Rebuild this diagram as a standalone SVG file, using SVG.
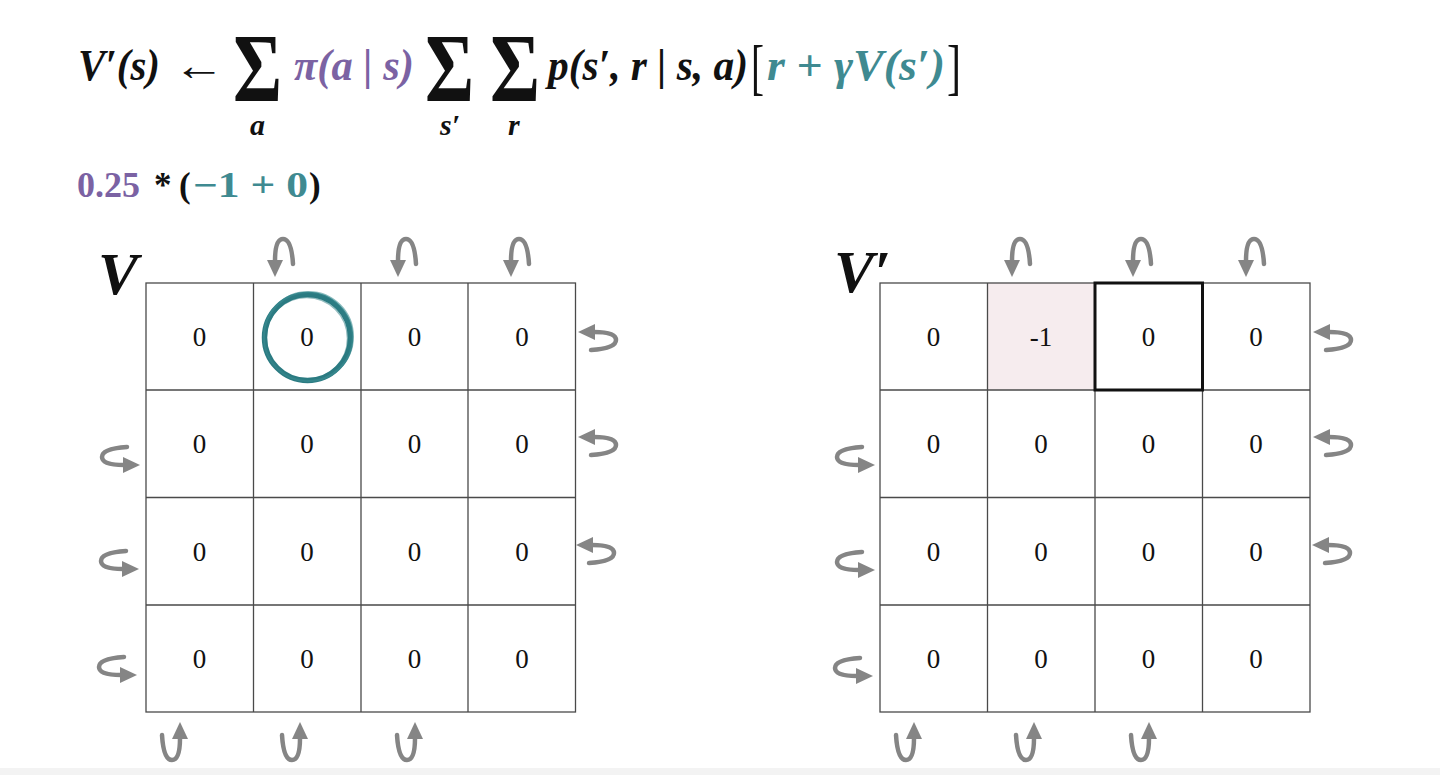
<svg xmlns="http://www.w3.org/2000/svg" width="1440" height="775" viewBox="0 0 1440 775">
<style>
.f{font-family:"Liberation Serif","Times New Roman",serif;}
.bi{font-family:"Liberation Serif","Times New Roman",serif;font-weight:bold;font-style:italic;}
.b{font-family:"Liberation Serif","Times New Roman",serif;font-weight:bold;}
.purple{fill:#7b62a3;}
.teal{fill:#3f8a91;}
.blk{fill:#111;}
.grid{fill:none;stroke:#4a4a4a;stroke-width:1.3;}
.num{font-family:"Liberation Serif","Times New Roman",serif;font-size:27px;fill:#111;text-anchor:middle;}
</style>
<defs>
<g id="loop">
<path d="M18,-13 C17,-29 14,-38 8,-38 C2,-38 0,-30 0,-16" fill="none" stroke="#858585" stroke-width="4.5" stroke-linecap="round"/>
<polygon points="0,0 -8,-17 8,-17" fill="#858585"/>
</g>
</defs>
<rect width="1440" height="775" fill="#ffffff"/>
<rect x="0" y="768" width="1440" height="7" fill="#f3f3f3"/>

<g id="formula">
<text class="bi blk" x="78" y="80" font-size="44" textLength="82" lengthAdjust="spacingAndGlyphs">V′(s)</text>
<text class="f blk" x="173" y="80" font-size="44" textLength="52" lengthAdjust="spacingAndGlyphs">←</text>
<text class="b blk"><tspan x="233" y="101" font-size="98" textLength="49" lengthAdjust="spacingAndGlyphs">Σ</tspan><tspan class="bi" x="250" y="135" font-size="30">a</tspan></text>
<text class="bi purple" x="294" y="80" font-size="44" textLength="120" lengthAdjust="spacingAndGlyphs">π(a | s)</text>
<text class="b blk"><tspan x="425" y="101" font-size="98" textLength="49" lengthAdjust="spacingAndGlyphs">Σ</tspan><tspan class="bi" x="440" y="135" font-size="30">s′</tspan></text>
<text class="b blk"><tspan x="490" y="101" font-size="98" textLength="50" lengthAdjust="spacingAndGlyphs">Σ</tspan><tspan class="bi" x="508" y="135" font-size="30">r</tspan></text>
<text class="bi blk" x="548" y="80" font-size="44" textLength="200" lengthAdjust="spacingAndGlyphs">p(s′, r | s, a)</text>
<text class="f blk" x="751" y="88" font-size="62" textLength="13" lengthAdjust="spacingAndGlyphs">[</text>
<text class="bi teal" x="767" y="80" font-size="44" textLength="178" lengthAdjust="spacingAndGlyphs">r + γV(s′)</text>
<text class="f blk" x="947" y="88" font-size="62" textLength="14" lengthAdjust="spacingAndGlyphs">]</text>
</g>

<g id="calc">
<text class="b purple" x="77" y="197" font-size="35" textLength="63" lengthAdjust="spacingAndGlyphs">0.25</text>
<text class="b blk" x="154" y="197" font-size="35">*</text>
<text class="b blk" x="179" y="197" font-size="35">(</text>
<text class="b teal" x="193" y="197" font-size="35" textLength="115" lengthAdjust="spacingAndGlyphs">−1 + 0</text>
<text class="b blk" x="309" y="197" font-size="35">)</text>
</g>

<g id="grid-V">
<text class="bi blk" x="98" y="294" font-size="60">V</text>
<rect class="grid" x="146" y="283" width="429.5" height="429"/>
<path class="grid" d="M253.5,283V712M361,283V712M468,283V712M146,390H575.5M146,497.5H575.5M146,605H575.5"/>
<g id="V-values">
<text class="num" x="199.5" y="346">0</text><text class="num" x="307" y="346">0</text><text class="num" x="414.5" y="346">0</text><text class="num" x="522" y="346">0</text>
<text class="num" x="199.5" y="453">0</text><text class="num" x="307" y="453">0</text><text class="num" x="414.5" y="453">0</text><text class="num" x="522" y="453">0</text>
<text class="num" x="199.5" y="561">0</text><text class="num" x="307" y="561">0</text><text class="num" x="414.5" y="561">0</text><text class="num" x="522" y="561">0</text>
<text class="num" x="199.5" y="668">0</text><text class="num" x="307" y="668">0</text><text class="num" x="414.5" y="668">0</text><text class="num" x="522" y="668">0</text>
</g>
<g id="highlight-circle" fill="none">
<circle cx="307.5" cy="337.5" r="43" stroke="#2b7b82" stroke-width="5.5"/>
<circle cx="308.5" cy="336.5" r="44.5" stroke="#3c8d93" stroke-width="2" opacity="0.6"/>
<circle cx="306.5" cy="338.5" r="41" stroke="#2b7b82" stroke-width="1.5" opacity="0.5"/>
</g>
</g>

<g id="grid-Vprime">
<text class="bi blk" x="834" y="292" font-size="60">V′</text>
<rect x="987.5" y="283" width="107.5" height="107" fill="#f6ecee"/>
<rect class="grid" x="880" y="283" width="430" height="429"/>
<path class="grid" d="M987.5,283V712M1095,283V712M1202.5,283V712M880,390H1310M880,497.5H1310M880,605H1310"/>
<rect x="1095" y="283" width="107.5" height="107" fill="none" stroke="#111" stroke-width="3"/>
<g id="Vprime-values">
<text class="num" x="933.5" y="346">0</text><text class="num" x="1041" y="346">-1</text><text class="num" x="1148.5" y="346">0</text><text class="num" x="1256" y="346">0</text>
<text class="num" x="933.5" y="453">0</text><text class="num" x="1041" y="453">0</text><text class="num" x="1148.5" y="453">0</text><text class="num" x="1256" y="453">0</text>
<text class="num" x="933.5" y="561">0</text><text class="num" x="1041" y="561">0</text><text class="num" x="1148.5" y="561">0</text><text class="num" x="1256" y="561">0</text>
<text class="num" x="933.5" y="668">0</text><text class="num" x="1041" y="668">0</text><text class="num" x="1148.5" y="668">0</text><text class="num" x="1256" y="668">0</text>
</g>
</g>

<g id="connectors">
<use href="#loop" transform="translate(275,277)"/>
<use href="#loop" transform="translate(398,277)"/>
<use href="#loop" transform="translate(511,277)"/>
<use href="#loop" transform="translate(180,722) rotate(180)"/>
<use href="#loop" transform="translate(300,722) rotate(180)"/>
<use href="#loop" transform="translate(415,722) rotate(180)"/>
<use href="#loop" transform="translate(140,465) rotate(-90)"/>
<use href="#loop" transform="translate(139,569) rotate(-90)"/>
<use href="#loop" transform="translate(137,675) rotate(-90)"/>
<use href="#loop" transform="translate(578,332) rotate(90)"/>
<use href="#loop" transform="translate(578,437) rotate(90)"/>
<use href="#loop" transform="translate(576,545) rotate(90)"/>

<use href="#loop" transform="translate(1012,277)"/>
<use href="#loop" transform="translate(1133,277)"/>
<use href="#loop" transform="translate(1246,277)"/>
<use href="#loop" transform="translate(914,722) rotate(180)"/>
<use href="#loop" transform="translate(1034,722) rotate(180)"/>
<use href="#loop" transform="translate(1149,722) rotate(180)"/>
<use href="#loop" transform="translate(875,465) rotate(-90)"/>
<use href="#loop" transform="translate(875,570) rotate(-90)"/>
<use href="#loop" transform="translate(873,676) rotate(-90)"/>
<use href="#loop" transform="translate(1313,332) rotate(90)"/>
<use href="#loop" transform="translate(1313,437) rotate(90)"/>
<use href="#loop" transform="translate(1312,545) rotate(90)"/>
</g>
</svg>
